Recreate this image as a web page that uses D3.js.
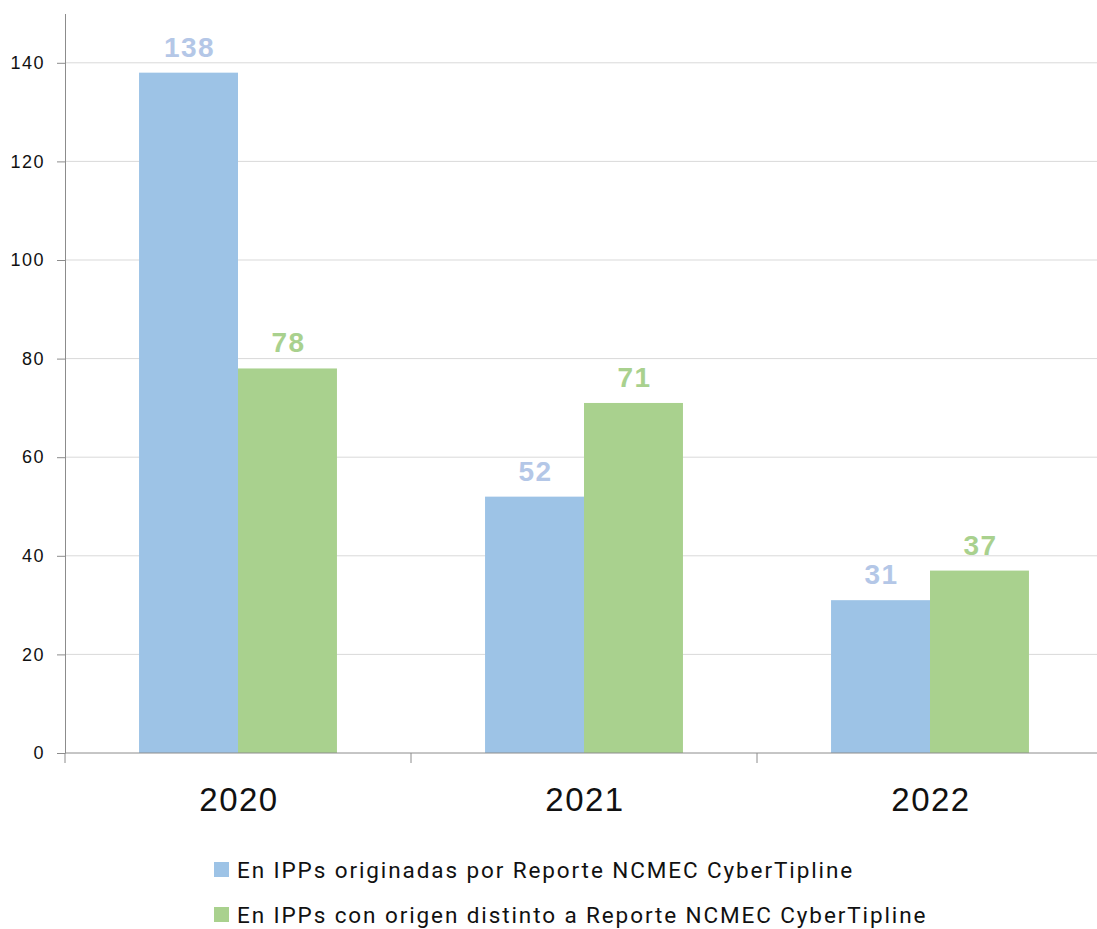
<!DOCTYPE html>
<html>
<head>
<meta charset="utf-8">
<script src="https://cdn.jsdelivr.net/npm/d3@7"></script>
<style>
  html, body { margin: 0; padding: 0; background: #fff; }
  svg { display: block; }
</style>
</head>
<body>
<svg id="chart" width="1097" height="929"></svg>
<script>
const years = ["2020", "2021", "2022"];
const seriesNames = [
  "En IPPs originadas por Reporte NCMEC CyberTipline",
  "En IPPs con origen distinto a Reporte NCMEC CyberTipline"
];
const ncmecValues = [138, 52, 31];
const otherValues = [78, 71, 37];
const yTicks = [0, 20, 40, 60, 80, 100, 120, 140];

const barColors = ["#9dc3e6", "#a9d18e"];
const labelColors = ["#b4c7e7", "#a9d18e"];
const seriesValues = [ncmecValues, otherValues];

const svg = d3.select("#chart");
const plotLeft = 65, plotRight = 1097, plotTop = 13.5, plotBottom = 753;

const y = d3.scaleLinear().domain([0, 150]).range([plotBottom, plotTop]);
const x0 = d3.scaleBand().domain(years).range([plotLeft, plotLeft + 3 * 346]).padding(0);
const bw = x0.bandwidth();
const x1 = d3.scaleBand().domain([0, 1]).range([bw * 0.214, bw * 0.786]).padding(0);

// gridlines
svg.append("g").selectAll("line").data(yTicks.filter(d => d > 0)).join("line")
  .attr("x1", plotLeft).attr("x2", plotRight)
  .attr("y1", d => y(d)).attr("y2", d => y(d))
  .attr("stroke", "#d9d9d9").attr("stroke-width", 1);

// bars
const groups = svg.append("g").selectAll("g").data(years).join("g")
  .attr("transform", d => `translate(${x0(d)},0)`);

groups.each(function(yr, i) {
  const g = d3.select(this);
  [0, 1].forEach(s => {
    const v = seriesValues[s][i];
    g.append("rect")
      .attr("x", x1(s)).attr("width", x1.bandwidth())
      .attr("y", y(v)).attr("height", y(0) - y(v))
      .attr("fill", barColors[s]);
    g.append("text")
      .attr("x", x1(s) + x1.bandwidth() / 2 + 1)
      .attr("y", y(v) - 16)
      .attr("text-anchor", "middle")
      .attr("font-family", "Liberation Sans, Arial, sans-serif")
      .attr("font-weight", "bold")
      .attr("font-size", 28)
      .attr("letter-spacing", 1.5)
      .attr("fill", labelColors[s])
      .text(v);
  });
});

// y axis
const yAxis = d3.axisLeft(y).tickValues(yTicks).tickSize(8).tickPadding(12).tickSizeOuter(0);
const yg = svg.append("g").attr("transform", `translate(${plotLeft},0)`).call(yAxis);
yg.select(".domain").attr("stroke", "#8c8c8c");
yg.selectAll(".tick line").attr("stroke", "#8c8c8c");
yg.selectAll(".tick text")
  .attr("font-family", "Liberation Sans, Arial, sans-serif")
  .attr("font-size", 18).attr("letter-spacing", 1.5).attr("fill", "#111");

// x axis
const xg = svg.append("g").attr("transform", `translate(0,${plotBottom})`);
xg.append("line").attr("x1", plotLeft).attr("x2", plotRight).attr("y1", 0).attr("y2", 0)
  .attr("stroke", "#8c8c8c");
xg.selectAll(".xtick").data(years).join("line")
  .attr("x1", d => x0(d)).attr("x2", d => x0(d))
  .attr("y1", 0).attr("y2", 10).attr("stroke", "#8c8c8c");
xg.selectAll(".xlabel").data(years).join("text")
  .attr("x", d => x0(d) + bw / 2 + 1)
  .attr("y", 58)
  .attr("text-anchor", "middle")
  .attr("font-family", "Liberation Sans, Arial, sans-serif")
  .attr("font-size", 33).attr("letter-spacing", 1.5).attr("fill", "#111")
  .text(d => d);

// legend
const lg = svg.append("g").selectAll("g").data(seriesNames).join("g")
  .attr("transform", (d, i) => `translate(214,${862 + i * 45})`);
lg.append("rect").attr("width", 15).attr("height", 15).attr("fill", (d, i) => barColors[i]);
lg.append("text")
  .attr("x", 23).attr("y", 16)
  .attr("font-family", "Roboto, sans-serif")
  .attr("font-size", 22.5).attr("letter-spacing", 1.9).attr("fill", "#111")
  .text(d => d);
</script>
</body>
</html>
